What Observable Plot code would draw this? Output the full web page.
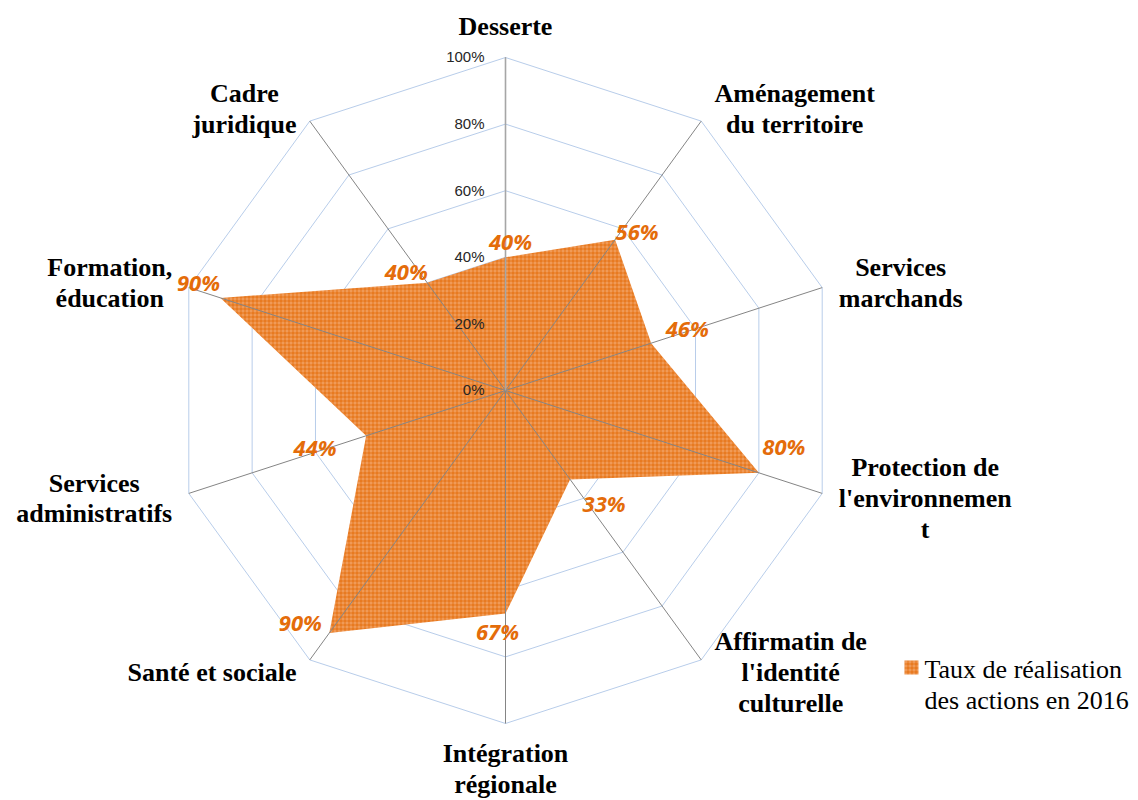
<!DOCTYPE html>
<html><head><meta charset="utf-8">
<script src="https://cdn.jsdelivr.net/npm/d3@7"></script>
<script src="https://cdn.jsdelivr.net/npm/@observablehq/plot@0.6"></script>
<style>
html,body{margin:0;padding:0;background:#fff;}
#chart{width:1138px;height:800px;}
</style></head><body><div id="chart"></div>
<script>
// ---- data ----
const categories = ["Desserte","Aménagement\ndu territoire","Services\nmarchands","Protection de\nl'environnemen\nt","Affirmatin de\nl'identité\nculturelle","Intégration\nrégionale","Santé et sociale","Services\nadministratifs","Formation,\néducation","Cadre\njuridique"];
const values = [40, 56, 46, 80, 33, 67, 90, 44, 90, 40];
const ticks = [0, 20, 40, 60, 80, 100];
const seriesName = "Taux de réalisation\ndes actions en 2016";

// ---- layout (pixel nudges for value labels) ----
const labelNudge = [[5,-14],[22,-7],[36,-13],[25,-25],[34,26],[-8,19],[-29,-9],[-51,13],[-22,-14],[-21,-10]];

const n = categories.length;
const ang = i => i * 2 * Math.PI / n;
const px = (i, r) => Math.sin(ang(i)) * r;
const py = (i, r) => Math.cos(ang(i)) * r;

const ringPts = [];
ticks.slice(1).forEach(t => {
  for (let i = 0; i <= n; i++) ringPts.push({t, x: px(i % n, t/100), y: py(i % n, t/100)});
});
const poly = values.map((v, i) => ({x: px(i, v/100), y: py(i, v/100), v, i}));
const spokes = categories.map((c, i) => ({x2: px(i, 1), y2: py(i, 1), i}));

const ctx = document.createElement("canvas").getContext("2d");
ctx.font = "bold 26px 'Liberation Serif'";

const catMarks = categories.map((c, i) => {
  const s = Math.sin(ang(i)), co = Math.cos(ang(i));
  const maxW = Math.max(...c.split("\n").map(l => ctx.measureText(l).width));
  let opts;
  if (Math.abs(s) < 0.1) {
    opts = {textAnchor: "middle", lineAnchor: co > 0 ? "bottom" : "top", dx: 0, dy: co > 0 ? -23 : 17};
  } else {
    opts = {textAnchor: "middle", lineAnchor: "middle", dx: Math.sign(s) * (8 + 9*Math.abs(s) + maxW/2), dy: -15*co - 1};
  }
  return Plot.text([c], {x: () => px(i, 1), y: () => py(i, 1), text: d => d, fontFamily: "Liberation Serif", fontWeight: "bold", fontSize: 26, lineHeight: 1.18, fill: "#000", ...opts});
});

const valMarks = poly.map((p, i) => Plot.text([p], {x: "x", y: "y", text: d => d.v + "%", dx: labelNudge[i][0], dy: labelNudge[i][1], fontFamily: "Open Sans", fontWeight: "bold", fontStyle: "italic", fontSize: 22, fill: "#E46C0A"}));

const chart = Plot.plot({
  width: 1138, height: 800,
  marginLeft: 172, marginRight: 300, marginTop: 57, marginBottom: 77,
  x: {domain: [-1, 1], axis: null},
  y: {domain: [-1, 1], axis: null},
  style: {background: "white", overflow: "visible"},
  marks: [
    Plot.line(ringPts, {x: "x", y: "y", z: "t", stroke: "#B8CDEA", strokeWidth: 1}),
    Plot.line(poly, {x: "x", y: "y", fill: "url(#pat)", stroke: "none", curve: "linear-closed"}),
    Plot.link(spokes, {x1: () => 0, y1: () => 0, x2: "x2", y2: "y2", stroke: "#858585", strokeWidth: 1}),
    Plot.link([0], {x1: () => 0, y1: () => 0, x2: () => 0, y2: () => 1, stroke: "#a6a6a6", strokeWidth: 1.6}),
    Plot.text(ticks, {x: () => 0, y: d => d/100, text: d => d + "%", textAnchor: "end", dx: -21, fontFamily: "Liberation Sans", fontSize: 15, fill: "#262626"}),
    ...valMarks,
    ...catMarks,
    Plot.dot([0], {frameAnchor: "bottom-right", dx: 73, dy: -56, symbol: "square", r: 7.9, fill: "url(#pat)", stroke: "none"}),
    Plot.text([seriesName], {frameAnchor: "bottom-right", text: d => d, textAnchor: "start", lineAnchor: "middle", dx: 86, dy: -40, fontFamily: "Liberation Serif", fontSize: 26, lineHeight: 1.2, fill: "#000"})
  ]
});

const defs = d3.select(chart).insert("defs", ":first-child");
const p = defs.append("pattern").attr("id", "pat").attr("patternUnits", "userSpaceOnUse").attr("width", 4).attr("height", 4);
p.append("rect").attr("width", 4).attr("height", 4).attr("fill", "#F2A366");
p.append("rect").attr("width", 4).attr("height", 1).attr("fill", "#E46C0A");
p.append("rect").attr("width", 1).attr("height", 4).attr("fill", "#E46C0A");
p.append("rect").attr("x", 2).attr("y", 2).attr("width", 1).attr("height", 1).attr("fill", "#E8802A");

document.getElementById("chart").appendChild(chart);
</script>
</body></html>
